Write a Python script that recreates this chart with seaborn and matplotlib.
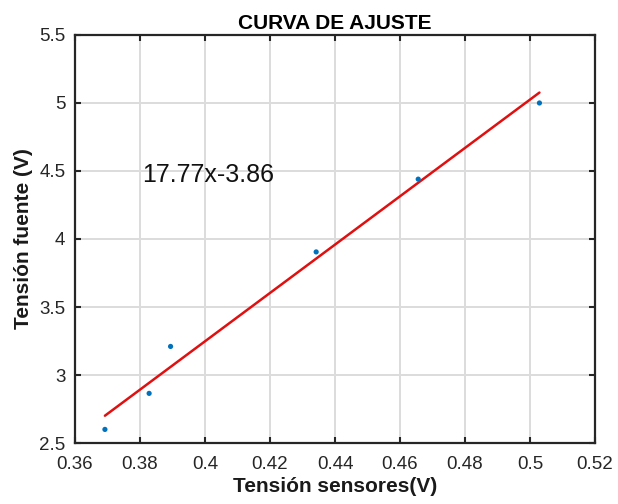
import numpy as np
import pandas as pd
import matplotlib
matplotlib.use("Agg")
import matplotlib.pyplot as plt
import seaborn as sns

tension_sensores = [0.3692, 0.3828, 0.3894, 0.4342, 0.4656, 0.5029]
tension_fuente = [2.60, 2.865, 3.21, 3.905, 4.44, 5.00]

# fit coefficients shown on the chart
pendiente = 17.77
ordenada = -3.86

xticks = [0.36, 0.38, 0.40, 0.42, 0.44, 0.46, 0.48, 0.50, 0.52]
yticks = [2.5, 3, 3.5, 4, 4.5, 5, 5.5]

df = pd.DataFrame({"x": tension_sensores, "y": tension_fuente})
x_fit = np.array([min(tension_sensores), max(tension_sensores)])
fit = pd.DataFrame({"x": x_fit, "y": pendiente * x_fit + ordenada})

sns.set_style("ticks")
plt.rcParams["font.family"] = ["Liberation Sans", "DejaVu Sans"]

fig = plt.figure(figsize=(6.18, 5.04), dpi=100)
ax = fig.add_axes([0.1214, 0.121, 0.8414, 0.8096])

sns.lineplot(data=fit, x="x", y="y", color="#e01010", linewidth=1.8, ax=ax, zorder=3)
sns.scatterplot(data=df, x="x", y="y", color="#0072BD", s=14, marker="o",
                edgecolor="none", ax=ax, zorder=4)

ax.text(0.3805, 4.47, "%.2fx%.2f" % (pendiente, ordenada), fontsize=18,
        va="center", ha="left", color="#111111")

ax.set_xlim(0.36, 0.52)
ax.set_ylim(2.5, 5.5)
ax.set_xticks(xticks)
ax.set_xticklabels(["0.36", "0.38", "0.4", "0.42", "0.44", "0.46", "0.48", "0.5", "0.52"])
ax.set_yticks(yticks)
ax.set_yticklabels(["2.5", "3", "3.5", "4", "4.5", "5", "5.5"])
ax.grid(True, color="#dcdcdc", linewidth=1.4)
ax.set_axisbelow(True)

ax.tick_params(direction="in", length=4, width=1.5, top=True, right=True,
               labelsize=13.5, labelcolor="#262626", color="#262626")
ax.tick_params(axis="x", pad=9)
ax.tick_params(axis="y", pad=7)
for s in ax.spines.values():
    s.set_linewidth(1.6)
    s.set_color("#262626")

ax.set_title("CURVA DE AJUSTE", fontsize=15, fontweight="bold", pad=4, color="black")
ax.set_xlabel("Tensión sensores(V)", fontsize=15, fontweight="bold", labelpad=3, color="#1a1a1a")
ax.set_ylabel("Tensión fuente (V)", fontsize=15, fontweight="bold", labelpad=4, color="#1a1a1a")

fig.savefig("out.png", dpi=100)
